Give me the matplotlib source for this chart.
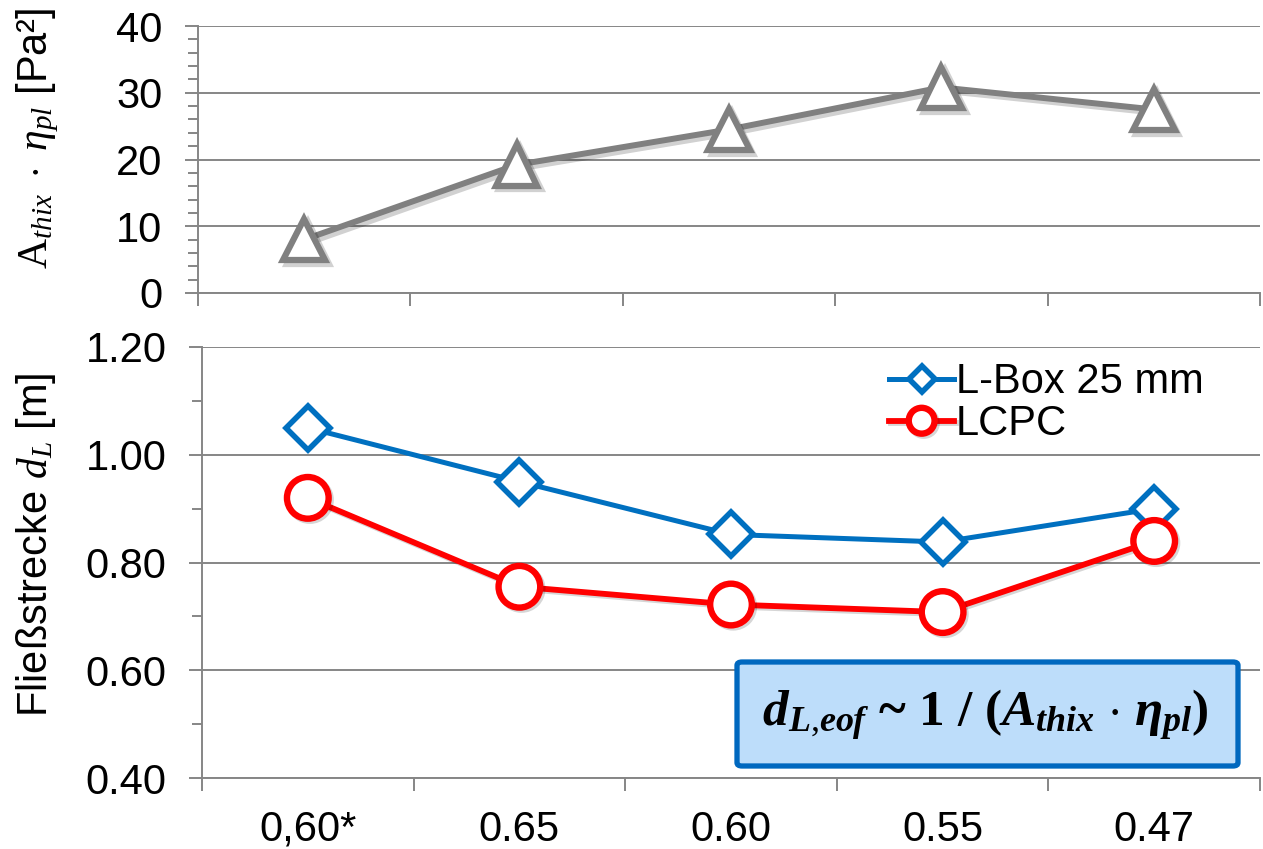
import matplotlib
matplotlib.use("Agg")
import matplotlib.pyplot as plt
import matplotlib.patheffects as pe
from matplotlib.patches import FancyBboxPatch
from matplotlib.ticker import MultipleLocator, FixedLocator, NullFormatter, FormatStrFormatter

# ---------------- data ----------------
categories = ["0,60*", "0.65", "0.60", "0.55", "0.47"]
athix_eta = [8.0, 19.2, 24.5, 30.8, 27.5]
lbox_25mm = [1.05, 0.95, 0.852, 0.838, 0.90]
lcpc = [0.92, 0.755, 0.722, 0.708, 0.840]
series_labels = ["L-Box 25 mm", "LCPC"]

# ---------------- style ----------------
plt.rcParams['font.family'] = ['Liberation Sans', 'DejaVu Sans']
plt.rcParams['mathtext.fontset'] = 'custom'
plt.rcParams['mathtext.rm'] = 'Liberation Serif'
plt.rcParams['mathtext.it'] = 'Liberation Serif:italic'
plt.rcParams['mathtext.bf'] = 'Liberation Serif:bold'
plt.rcParams['mathtext.bfit'] = 'Liberation Serif:italic:bold'

GRID = '#868686'
FS = 30

W, H = 1263, 849
fig = plt.figure(figsize=(W / 100, H / 100), dpi=100)

def fx(px):
    return px / W

def fy(py):
    return 1 - py / H

ax1 = fig.add_axes([fx(198), fy(293), fx(1260) - fx(198), fy(26) - fy(293)])
ax2 = fig.add_axes([fx(202), fy(778), fx(1260) - fx(202), fy(347) - fy(778)])

x = list(range(len(categories)))
shadow = [pe.SimpleLineShadow(offset=(2.5, -2.5), shadow_color='k', alpha=0.18), pe.Normal()]

ax1.plot(x, athix_eta, color='#808080', lw=4.3, marker='^', ms=30, mfc='white',
         mec='#808080', mew=4.5, path_effects=shadow, zorder=3, clip_on=False)

ax2.plot(x, lbox_25mm, color='#0070C0', lw=3.6, marker='D', ms=22, mfc='white',
         mec='#0070C0', mew=4.0, label=series_labels[0], zorder=3, clip_on=False)
ax2.plot(x, lcpc, color='#FF0000', lw=4.2, marker='o', ms=30, mfc='white',
         mec='#FF0000', mew=4.6, label=series_labels[1], zorder=3, clip_on=False,
         path_effects=[pe.SimpleLineShadow(offset=(1.5, -1.5), shadow_color='k', alpha=0.16), pe.Normal()])

for ax in (ax1, ax2):
    ax.set_xlim(-0.5, len(categories) - 0.5)
    for s in ('top', 'right'):
        ax.spines[s].set_visible(False)
    for s in ('left', 'bottom'):
        ax.spines[s].set_color(GRID)
        ax.spines[s].set_linewidth(1.4)
    ax.grid(axis='y', color=GRID, lw=1.4, zorder=0)
    ax.set_axisbelow(True)
    ax.xaxis.set_major_locator(FixedLocator([i - 0.5 for i in range(len(categories) + 1)]))
    ax.xaxis.set_major_formatter(NullFormatter())
    ax.tick_params(axis='x', which='major', length=9, width=1.4, color=GRID, direction='out')
    ax.tick_params(axis='y', which='major', length=9.5, width=1.4, color=GRID,
                   labelsize=FS, pad=16)
    ax.tick_params(axis='y', which='minor', length=7, width=1.4, color=GRID)

ax1.set_ylim(0, 40)
ax1.yaxis.set_major_locator(MultipleLocator(10))
ax1.yaxis.set_minor_locator(MultipleLocator(2))

ax2.set_ylim(0.40, 1.20)
ax2.yaxis.set_major_locator(MultipleLocator(0.2))
ax2.yaxis.set_minor_locator(MultipleLocator(0.1))
ax2.yaxis.set_major_formatter(FormatStrFormatter('%.2f'))
ax2.set_xticks(x, minor=True)
ax2.set_xticklabels(categories, minor=True)
ax2.tick_params(axis='x', which='minor', length=0, labelsize=FS, pad=23)

fig.text(fx(38), fy(138), r'$\mathrm{A}_{thix}\ \cdot\ \eta_{pl}$ [Pa²]', rotation=90,
         ha='center', va='center', fontsize=FS)
fig.text(fx(36), fy(545), r'Fließstrecke $d_L$ [m]', rotation=90,
         ha='center', va='center', fontsize=FS)

leg = ax2.legend(loc='upper left', bbox_to_anchor=(0.630, 1.013), frameon=False,
                 fontsize=FS, handlelength=1.55, handletextpad=0.05, labelspacing=0.05,
                 borderpad=0, markerscale=0.62)

# formula box
bx0, by0, bx1, by1 = fx(737), fy(766), fx(1238), fy(662)
box = FancyBboxPatch((bx0, by0), bx1 - bx0, by1 - by0, boxstyle='round,pad=0,rounding_size=0.004',
                     transform=fig.transFigure, facecolor='#BDDDFA', edgecolor='#0068BF',
                     lw=3.8, zorder=5)
fig.patches.append(box)
fig.text((bx0 + bx1) / 2 - fx(2), (by0 + by1) / 2 - 0.002,
         r'$\mathbfit{d}_{\mathbfit{L}{,}\mathbfit{eof}}$ ~ 1 / ($\mathbfit{A}_{\mathbfit{thix}}\ \mathbf{\cdot}\ \mathbfit{\eta}_{\mathbfit{pl}}$)',
         ha='center', va='center', fontsize=37, zorder=6,
         family='Liberation Serif', weight='bold')

fig.savefig('out.png', dpi=100)
